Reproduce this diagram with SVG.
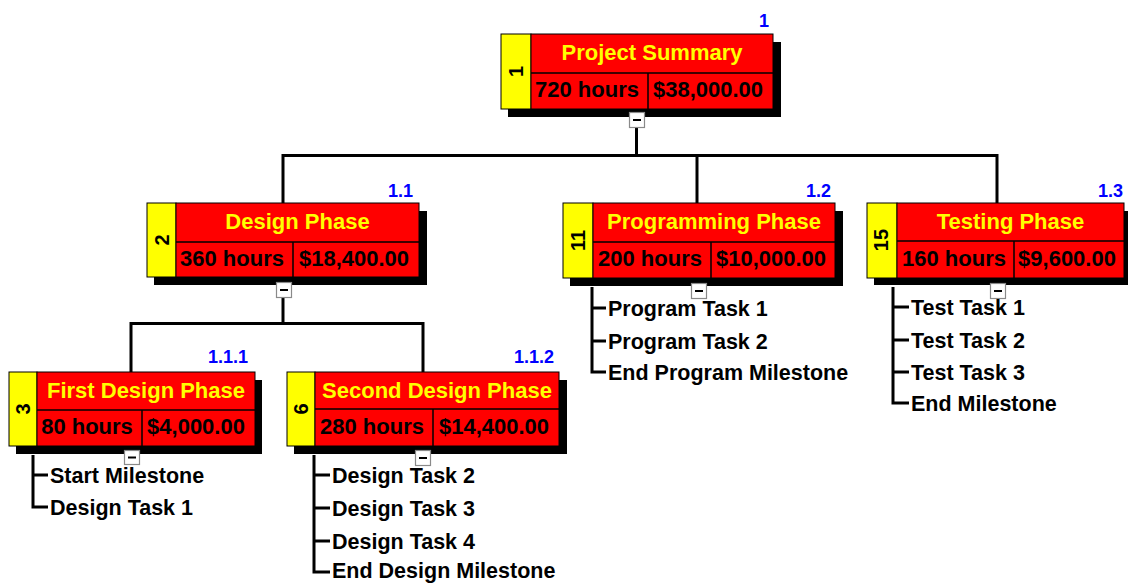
<svg xmlns="http://www.w3.org/2000/svg" width="1128" height="583" viewBox="0 0 1128 583">
  <style>
    .shadow { fill: #000; }
    .idbox { fill: #ffff00; stroke: #000; stroke-width: 1; }
    .body { fill: #ff0000; stroke: #000; stroke-width: 1; }
    .div { stroke: #000; stroke-width: 1.5; }
    text { font-family: "Liberation Sans", Arial, sans-serif; font-weight: bold; }
    .title { font-size: 22px; fill: #ffff00; text-anchor: middle; }
    .num { font-size: 22px; fill: #000; text-anchor: middle; }
    .id { font-size: 20px; fill: #000; text-anchor: middle; dominant-baseline: central; }
    .wbs { font-size: 18px; fill: #0000ff; text-anchor: end; }
    .item { font-size: 21.5px; fill: #000; }
    .link { stroke: #000; stroke-width: 3; fill: none; }
    .toggle rect { fill: #fff; stroke: #8a8a8a; stroke-width: 1.2; }
    .toggle line { stroke: #000; stroke-width: 2; }
  </style>

  <!-- tree connectors and task list brackets -->
  <g id="connectors" class="link">
    <path d="M636.5 127 V155.5"/>
    <path d="M283 203 V155.5 H997 V203"/>
    <path d="M697 155.5 V203"/>
    <path d="M283 297 V323.5"/>
    <path d="M131 372 V323.5 H423 V372"/>
    <!-- task lists -->
    <path d="M33 455 V507 H48 M33 475 H48"/>
    <path d="M314 455 V572 H330 M314 475 H330 M314 508 H330 M314 541 H330"/>
    <path d="M592 287 V372 H606 M592 308 H606 M592 341 H606"/>
    <path d="M893 287 V403 H909 M893 307 H909 M893 340 H909 M893 372 H909"/>
  </g>

  <!-- 1: Project Summary -->
  <g id="node-1">
    <rect class="shadow" x="508" y="42" width="273" height="75"/>
    <rect class="idbox" x="501" y="34" width="30" height="75"/>
    <rect class="body" x="531" y="34" width="242" height="75"/>
    <line class="div" x1="531" y1="73" x2="773" y2="73"/>
    <line class="div" x1="648" y1="73" x2="648" y2="109"/>
    <text class="id" transform="translate(516 71.5) rotate(-90)">1</text>
    <text class="title" x="652" y="60">Project Summary</text>
    <text class="num" x="587" y="97">720 hours</text>
    <text class="num" x="708" y="97">$38,000.00</text>
    <text class="wbs" x="769" y="27">1</text>
    <g class="toggle"><rect x="629.5" y="112.5" width="15" height="15"/><line x1="633" y1="120" x2="641" y2="120"/></g>
  </g>

  <!-- 2: Design Phase -->
  <g id="node-2">
    <rect class="shadow" x="154" y="211" width="273" height="74"/>
    <rect class="idbox" x="147" y="203" width="29" height="74"/>
    <rect class="body" x="176" y="203" width="243" height="74"/>
    <line class="div" x1="176" y1="242" x2="419" y2="242"/>
    <line class="div" x1="293" y1="242" x2="293" y2="277"/>
    <text class="id" transform="translate(161.5 240) rotate(-90)">2</text>
    <text class="title" x="297.5" y="229">Design Phase</text>
    <text class="num" x="232" y="266">360 hours</text>
    <text class="num" x="354" y="266">$18,400.00</text>
    <text class="wbs" x="413" y="197">1.1</text>
    <g class="toggle"><rect x="276.5" y="282.5" width="15" height="15"/><line x1="280" y1="290" x2="288" y2="290"/></g>
  </g>

  <!-- 11: Programming Phase -->
  <g id="node-11">
    <rect class="shadow" x="570" y="211" width="273" height="75"/>
    <rect class="idbox" x="563" y="203" width="30" height="75"/>
    <rect class="body" x="593" y="203" width="242" height="75"/>
    <line class="div" x1="593" y1="242" x2="835" y2="242"/>
    <line class="div" x1="711" y1="242" x2="711" y2="278"/>
    <text class="id" transform="translate(578 240.5) rotate(-90)">11</text>
    <text class="title" x="714" y="229">Programming Phase</text>
    <text class="num" x="650" y="266">200 hours</text>
    <text class="num" x="771" y="266">$10,000.00</text>
    <text class="wbs" x="831" y="197">1.2</text>
    <g class="toggle"><rect x="691.5" y="283.5" width="15" height="15"/><line x1="695" y1="291" x2="703" y2="291"/></g>
  </g>

  <!-- 15: Testing Phase -->
  <g id="node-15">
    <rect class="shadow" x="874" y="211" width="257" height="74"/>
    <rect class="idbox" x="867" y="203" width="30" height="75"/>
    <rect class="body" x="897" y="203" width="227" height="75"/>
    <line class="div" x1="897" y1="241" x2="1124" y2="241"/>
    <line class="div" x1="1014" y1="241" x2="1014" y2="278"/>
    <text class="id" transform="translate(881 240) rotate(-90)">15</text>
    <text class="title" x="1010.5" y="229">Testing Phase</text>
    <text class="num" x="954" y="266">160 hours</text>
    <text class="num" x="1067" y="266">$9,600.00</text>
    <text class="wbs" x="1123" y="197">1.3</text>
    <g class="toggle"><rect x="990.5" y="283.5" width="15" height="15"/><line x1="994" y1="291" x2="1002" y2="291"/></g>
  </g>

  <!-- 3: First Design Phase -->
  <g id="node-3">
    <rect class="shadow" x="16" y="380" width="246" height="74"/>
    <rect class="idbox" x="9" y="372" width="28" height="74"/>
    <rect class="body" x="37" y="372" width="218" height="74"/>
    <line class="div" x1="37" y1="410" x2="255" y2="410"/>
    <line class="div" x1="142" y1="410" x2="142" y2="446"/>
    <text class="id" transform="translate(23 409) rotate(-90)">3</text>
    <text class="title" x="146" y="398">First Design Phase</text>
    <text class="num" x="87" y="434">80 hours</text>
    <text class="num" x="196" y="434">$4,000.00</text>
    <text class="wbs" x="248" y="363">1.1.1</text>
    <g class="toggle"><rect x="124.5" y="450.5" width="15" height="14"/><line x1="128" y1="457.5" x2="136" y2="457.5"/></g>
  </g>

  <!-- 6: Second Design Phase -->
  <g id="node-6">
    <rect class="shadow" x="294" y="380" width="273" height="74"/>
    <rect class="idbox" x="287" y="372" width="28" height="74"/>
    <rect class="body" x="315" y="372" width="244" height="74"/>
    <line class="div" x1="315" y1="409" x2="559" y2="409"/>
    <line class="div" x1="433" y1="409" x2="433" y2="446"/>
    <text class="id" transform="translate(301 409) rotate(-90)">6</text>
    <text class="title" x="437" y="398">Second Design Phase</text>
    <text class="num" x="372" y="434">280 hours</text>
    <text class="num" x="494" y="434">$14,400.00</text>
    <text class="wbs" x="554" y="363">1.1.2</text>
    <g class="toggle"><rect x="415.5" y="450.5" width="15" height="15"/><line x1="419" y1="458" x2="427" y2="458"/></g>
  </g>

  <!-- task lists -->
  <g id="tasks-3">
    <text class="item" x="50" y="483">Start Milestone</text>
    <text class="item" x="50" y="515">Design Task 1</text>
  </g>
  <g id="tasks-6">
    <text class="item" x="332" y="483">Design Task 2</text>
    <text class="item" x="332" y="516">Design Task 3</text>
    <text class="item" x="332" y="549">Design Task 4</text>
    <text class="item" x="332" y="578">End Design Milestone</text>
  </g>
  <g id="tasks-11">
    <text class="item" x="608" y="316">Program Task 1</text>
    <text class="item" x="608" y="349">Program Task 2</text>
    <text class="item" x="608" y="380">End Program Milestone</text>
  </g>
  <g id="tasks-15">
    <text class="item" x="911" y="315">Test Task 1</text>
    <text class="item" x="911" y="348">Test Task 2</text>
    <text class="item" x="911" y="380">Test Task 3</text>
    <text class="item" x="911" y="411">End Milestone</text>
  </g>
</svg>
